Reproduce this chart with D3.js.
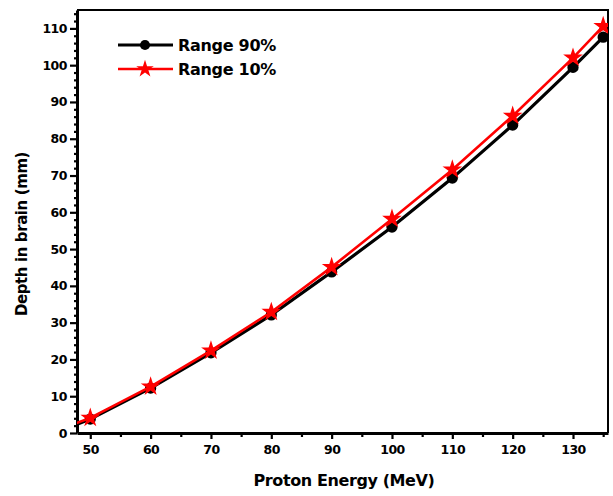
<!DOCTYPE html>
<html>
<head>
<meta charset="utf-8">
<script src="https://cdn.jsdelivr.net/npm/d3@7"></script>
<style>
  body { margin: 0; background: #fff; }
  svg { display: block; }
  text { font-family: "DejaVu Sans", "Liberation Sans", Arial, sans-serif; font-weight: bold; }
</style>
</head>
<body>
<svg id="chart" width="613" height="496"></svg>
<script>
// Proton energies (MeV) and penetration depths in brain tissue (mm)
const energies = [45, 50, 60, 70, 80, 90, 100, 110, 120, 130, 135];
const range90 = [0.6, 3.8, 12.2, 21.8, 32.1, 43.8, 56.0, 69.3, 83.7, 99.4, 107.6];
const range10 = [1.0, 4.1, 12.6, 22.4, 32.9, 45.1, 58.2, 71.6, 86.2, 102.0, 110.6];
const xTicks = [50, 60, 70, 80, 90, 100, 110, 120, 130];
const yTicks = [0, 10, 20, 30, 40, 50, 60, 70, 80, 90, 100, 110];

const svg = d3.select("#chart");
const m = { left: 77, top: 10, right: 608, bottom: 433 };

const x = d3.scaleLinear().domain([47.8, 135.8]).range([m.left, m.right]);
const y = d3.scaleLinear().domain([0, 115]).range([m.bottom, m.top]);

// clip region for the data
svg.append("defs").append("clipPath").attr("id", "plotClip")
  .append("rect").attr("x", m.left).attr("y", m.top)
  .attr("width", m.right - m.left).attr("height", m.bottom - m.top);

// frame (top and right)
svg.append("path")
  .attr("d", `M${m.left},${m.top}H${m.right}V${m.bottom}`)
  .attr("fill", "none").attr("stroke", "#000").attr("stroke-width", 2);

// x axis
svg.append("g").attr("transform", `translate(0,${m.bottom})`)
  .call(d3.axisBottom(x).tickValues(xTicks).tickSize(6).tickSizeOuter(0).tickPadding(6));
svg.append("g").attr("transform", `translate(0,${m.bottom})`)
  .call(d3.axisBottom(x).tickValues(d3.range(55, 136, 10)).tickSize(4).tickSizeOuter(0).tickFormat(""))
  .call(g => g.select(".domain").remove());

// y axis
svg.append("g").attr("transform", `translate(${m.left},0)`)
  .call(d3.axisLeft(y).tickValues(yTicks).tickSize(7).tickSizeOuter(0).tickPadding(3));
svg.append("g").attr("transform", `translate(${m.left},0)`)
  .call(d3.axisLeft(y).tickValues(d3.range(0, 115, 2).filter(v => v % 10 !== 0)).tickSize(3).tickSizeOuter(0).tickFormat(""))
  .call(g => g.select(".domain").remove());

svg.selectAll(".domain").attr("stroke-width", 3);
svg.selectAll(".tick line").attr("stroke-width", 2.2);
svg.selectAll(".tick text").attr("font-size", 12.5).attr("fill", "#000")
  .attr("letter-spacing", "-0.5px");

// axis titles
svg.append("text").attr("x", 344).attr("y", 486)
  .attr("text-anchor", "middle").attr("font-size", 16).attr("letter-spacing", "-0.4px")
  .text("Proton Energy (MeV)");
svg.append("text").attr("transform", `translate(27,234) rotate(-90)`)
  .attr("text-anchor", "middle").attr("font-size", 15).attr("letter-spacing", "-0.4px")
  .text("Depth in brain (mm)");

const line = d3.line().x((d, i) => x(energies[i])).y(d => y(d));
const plot = svg.append("g").attr("clip-path", "url(#plotClip)");

const star = d3.symbol().type(d3.symbolStar).size(120);
const circle = d3.symbol().type(d3.symbolCircle).size(100);
const starSmall = d3.symbol().type(d3.symbolStar).size(95);
const circleSmall = d3.symbol().type(d3.symbolCircle).size(80);

// Range 90% series
plot.append("path").datum(range90).attr("d", line)
  .attr("fill", "none").attr("stroke", "#000").attr("stroke-width", 3.2);
plot.selectAll(".m90").data(range90).join("path").attr("class", "m90")
  .attr("transform", (d, i) => `translate(${x(energies[i])},${y(d)})`)
  .attr("d", circle).attr("fill", "#000");

// Range 10% series
plot.append("path").datum(range10).attr("d", line)
  .attr("fill", "none").attr("stroke", "#ff0000").attr("stroke-width", 2.6);
plot.selectAll(".m10").data(range10).join("path").attr("class", "m10")
  .attr("transform", (d, i) => `translate(${x(energies[i])},${y(d)})`)
  .attr("d", star).attr("fill", "#ff0000");

// legend
const legend = [
  { label: "Range 90%", color: "#000", sym: circleSmall, w: 3.2 },
  { label: "Range 10%", color: "#ff0000", sym: starSmall, w: 2.6 }
];
const lg = svg.append("g");
legend.forEach((l, i) => {
  const ly = 45 + i * 24;
  lg.append("line").attr("x1", 118).attr("x2", 173).attr("y1", ly).attr("y2", ly)
    .attr("stroke", l.color).attr("stroke-width", l.w);
  lg.append("path").attr("transform", `translate(145,${ly})`).attr("d", l.sym).attr("fill", l.color);
  lg.append("text").attr("x", 178).attr("y", ly).attr("dy", "0.36em")
    .attr("font-size", 16).attr("letter-spacing", "-0.3px").text(l.label);
});
</script>
</body>
</html>
